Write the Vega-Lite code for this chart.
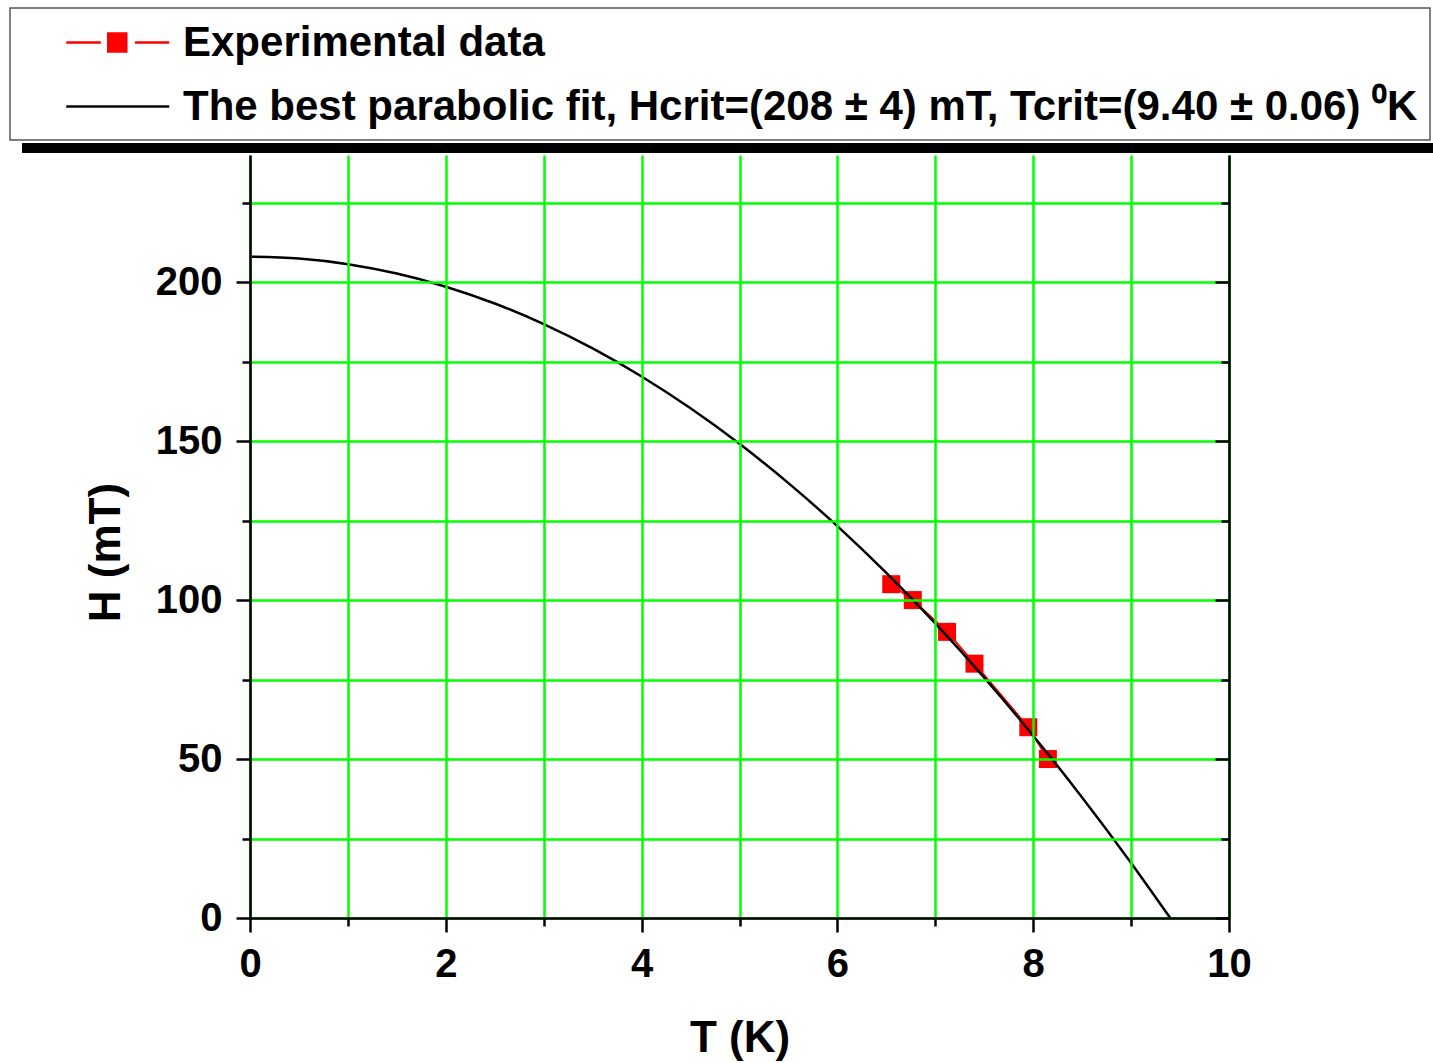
{
  "$schema": "https://vega.github.io/schema/vega-lite/v6.json",
  "width": 979,
  "height": 763,
  "autosize": {"type": "none"},
  "padding": {"left": 250, "top": 155, "right": 204, "bottom": 145},
  "background": "white",
  "datasets": {
    "exp": [
      {"T": 6.55, "H": 105, "series": "Experimental data"},
      {"T": 6.77, "H": 100, "series": "Experimental data"},
      {"T": 7.12, "H": 90, "series": "Experimental data"},
      {"T": 7.40, "H": 80, "series": "Experimental data"},
      {"T": 7.95, "H": 60, "series": "Experimental data"},
      {"T": 8.15, "H": 50, "series": "Experimental data"}
    ],
    "fit": [
      {"T": 0, "H": 208, "series": "The best parabolic fit, Hcrit=(208 ± 4) mT, Tcrit=(9.40 ± 0.06) ⁰K"},
      {"T": 0.5, "H": 207.41, "series": "The best parabolic fit, Hcrit=(208 ± 4) mT, Tcrit=(9.40 ± 0.06) ⁰K"},
      {"T": 1, "H": 205.65, "series": "The best parabolic fit, Hcrit=(208 ± 4) mT, Tcrit=(9.40 ± 0.06) ⁰K"},
      {"T": 1.5, "H": 202.70, "series": "The best parabolic fit, Hcrit=(208 ± 4) mT, Tcrit=(9.40 ± 0.06) ⁰K"},
      {"T": 2, "H": 198.58, "series": "The best parabolic fit, Hcrit=(208 ± 4) mT, Tcrit=(9.40 ± 0.06) ⁰K"},
      {"T": 2.5, "H": 193.29, "series": "The best parabolic fit, Hcrit=(208 ± 4) mT, Tcrit=(9.40 ± 0.06) ⁰K"},
      {"T": 3, "H": 186.81, "series": "The best parabolic fit, Hcrit=(208 ± 4) mT, Tcrit=(9.40 ± 0.06) ⁰K"},
      {"T": 3.5, "H": 179.16, "series": "The best parabolic fit, Hcrit=(208 ± 4) mT, Tcrit=(9.40 ± 0.06) ⁰K"},
      {"T": 4, "H": 170.34, "series": "The best parabolic fit, Hcrit=(208 ± 4) mT, Tcrit=(9.40 ± 0.06) ⁰K"},
      {"T": 4.5, "H": 160.33, "series": "The best parabolic fit, Hcrit=(208 ± 4) mT, Tcrit=(9.40 ± 0.06) ⁰K"},
      {"T": 5, "H": 149.15, "series": "The best parabolic fit, Hcrit=(208 ± 4) mT, Tcrit=(9.40 ± 0.06) ⁰K"},
      {"T": 5.5, "H": 136.79, "series": "The best parabolic fit, Hcrit=(208 ± 4) mT, Tcrit=(9.40 ± 0.06) ⁰K"},
      {"T": 6, "H": 123.26, "series": "The best parabolic fit, Hcrit=(208 ± 4) mT, Tcrit=(9.40 ± 0.06) ⁰K"},
      {"T": 6.5, "H": 108.54, "series": "The best parabolic fit, Hcrit=(208 ± 4) mT, Tcrit=(9.40 ± 0.06) ⁰K"},
      {"T": 7, "H": 92.65, "series": "The best parabolic fit, Hcrit=(208 ± 4) mT, Tcrit=(9.40 ± 0.06) ⁰K"},
      {"T": 7.5, "H": 75.59, "series": "The best parabolic fit, Hcrit=(208 ± 4) mT, Tcrit=(9.40 ± 0.06) ⁰K"},
      {"T": 8, "H": 57.34, "series": "The best parabolic fit, Hcrit=(208 ± 4) mT, Tcrit=(9.40 ± 0.06) ⁰K"},
      {"T": 8.5, "H": 37.92, "series": "The best parabolic fit, Hcrit=(208 ± 4) mT, Tcrit=(9.40 ± 0.06) ⁰K"},
      {"T": 9, "H": 17.33, "series": "The best parabolic fit, Hcrit=(208 ± 4) mT, Tcrit=(9.40 ± 0.06) ⁰K"},
      {"T": 9.4, "H": 0, "series": "The best parabolic fit, Hcrit=(208 ± 4) mT, Tcrit=(9.40 ± 0.06) ⁰K"}
    ]
  },
  "config": {
    "view": {"stroke": null},
    "axis": {
      "labelFont": "Liberation Sans",
      "labelFontWeight": "bold",
      "labelFontSize": 40,
      "labelColor": "#000000",
      "titleFont": "Liberation Sans",
      "titleFontWeight": "bold",
      "titleFontSize": 44,
      "titleColor": "#000000",
      "domainColor": "#000000",
      "domainWidth": 2.5,
      "tickColor": "#000000",
      "tickWidth": 2.5,
      "gridColor": "#00ff00",
      "gridWidth": 2.5,
      "gridOpacity": 1,
      "labelFlush": false,
      "labelOverlap": false
    },
    "legend": {
      "labelFont": "Liberation Sans",
      "labelFontWeight": "bold",
      "labelFontSize": 42,
      "labelColor": "#000000",
      "labelLimit": 3000
    }
  },
  "resolve": {"axis": {"x": "independent", "y": "independent"}},
  "layer": [
    {
      "data": {"name": "exp"},
      "mark": {"type": "line", "color": "#ff0000", "strokeWidth": 2},
      "encoding": {
        "x": {"field": "T", "type": "quantitative", "scale": {"domain": [0, 10], "nice": false, "zero": false},
          "axis": {"orient": "bottom", "values": [0, 2, 4, 6, 8, 10], "tickSize": 14, "labelPadding": 12, "grid": true, "title": "T (K)", "titlePadding": 32, "zindex": 1}},
        "y": {"field": "H", "type": "quantitative", "scale": {"domain": [0, 240], "nice": false, "zero": false},
          "axis": {"orient": "left", "values": [0, 50, 100, 150, 200], "tickSize": 14, "labelPadding": 14, "grid": true, "title": "H (mT)", "titlePadding": 27, "titleY": 397, "zindex": 1}}
      }
    },
    {
      "data": {"name": "exp"},
      "mark": {"type": "point", "shape": "square", "filled": true, "color": "#ff0000", "size": 324, "opacity": 1},
      "encoding": {
        "x": {"field": "T", "type": "quantitative", "scale": {"domain": [0, 10], "nice": false, "zero": false},
          "axis": {"orient": "bottom", "values": [1, 3, 5, 7, 9], "tickSize": 8, "labels": false, "domain": false, "grid": true, "title": null, "zindex": 1}},
        "y": {"field": "H", "type": "quantitative", "scale": {"domain": [0, 240], "nice": false, "zero": false},
          "axis": {"orient": "left", "values": [25, 75, 125, 175, 225], "tickSize": 8, "labels": false, "domain": false, "grid": true, "title": null, "zindex": 1}}
      }
    },
    {
      "data": {"name": "fit"},
      "mark": {"type": "line", "strokeWidth": 2.5, "interpolate": "monotone"},
      "encoding": {
        "x": {"field": "T", "type": "quantitative", "scale": {"domain": [0, 10], "nice": false, "zero": false}, "axis": null},
        "y": {"field": "H", "type": "quantitative", "scale": {"domain": [0, 240], "nice": false, "zero": false},
          "axis": {"orient": "right", "values": [0, 50, 100, 150, 200], "tickSize": -14, "labels": false, "grid": false, "title": null, "zindex": 1}},
        "stroke": {"field": "series", "type": "nominal",
          "scale": {"domain": ["Experimental data", "The best parabolic fit, Hcrit=(208 ± 4) mT, Tcrit=(9.40 ± 0.06) ⁰K"], "range": ["#ff0000", "#000000"]},
          "legend": {
            "orient": "none",
            "legendX": -240,
            "legendY": -147,
            "title": null,
            "padding": 12,
            "fillColor": "#ffffff",
            "strokeColor": "#555555",
            "symbolSize": 1764,
            "symbolStrokeWidth": 2.5,
            "labelOffset": 116,
            "rowPadding": 20,
            "zindex": 2,
            "encode": {
              "legend": {"update": {"strokeWidth": {"value": 1.5}}},
              "symbols": {"update": {
                "shape": {"signal": "datum.value === 'Experimental data' ? 'M1.036,0H2.683M4.307,0H5.94M3.036,-0.43H3.893V0.43H3.036Z' : 'M1.036,0H5.94'"},
                "fill": {"signal": "datum.value === 'Experimental data' ? '#ff0000' : 'transparent'"},
                "stroke": {"signal": "datum.value === 'Experimental data' ? '#ff0000' : '#000000'"},
                "strokeWidth": {"value": 2.5},
                "size": {"value": 1764}
              }}
            }
          }
        }
      }
    },
    {
      "data": {"name": "exp"},
      "mark": {"type": "point", "opacity": 0},
      "encoding": {
        "x": {"field": "T", "type": "quantitative", "scale": {"domain": [0, 10], "nice": false, "zero": false}, "axis": null},
        "y": {"field": "H", "type": "quantitative", "scale": {"domain": [0, 240], "nice": false, "zero": false},
          "axis": {"orient": "right", "values": [25, 75, 125, 175, 225], "tickSize": -8, "labels": false, "domain": false, "grid": false, "title": null, "zindex": 1}},
        "fill": {"field": "H", "type": "quantitative", "scale": {"range": ["#000000", "#000000"]},
          "legend": {
            "type": "gradient",
            "orient": "none",
            "direction": "horizontal",
            "legendX": -228,
            "legendY": -12,
            "gradientLength": 1411,
            "gradientThickness": 10,
            "gradientStrokeWidth": 0,
            "labelOpacity": 0,
            "title": null,
            "padding": 0,
            "zindex": 1
          }
        }
      }
    }
  ]
}
